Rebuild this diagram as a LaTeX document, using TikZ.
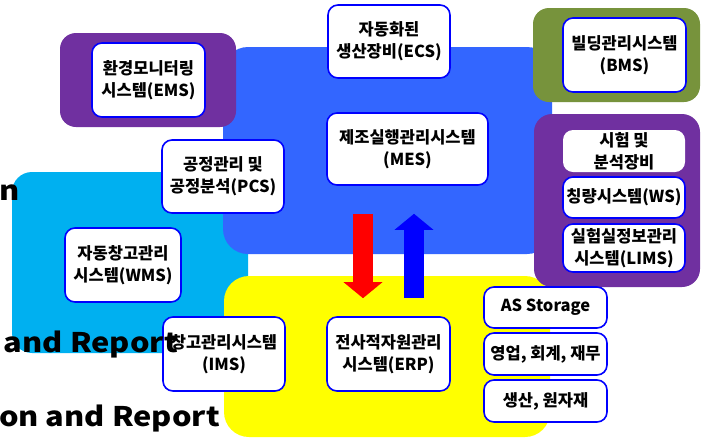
\documentclass[tikz,border=0pt]{standalone}
\usepackage{fontspec}
\setmainfont{Noto Sans CJK KR}
\newfontfamily\cutfont{Noto Sans CJK KR}[FakeStretch=1.14]
\usetikzlibrary{arrows.meta,positioning}
\definecolor{MesBlue}{HTML}{3366FF}
\definecolor{WmsCyan}{HTML}{00B0F0}
\definecolor{ErpYellow}{HTML}{FFFF00}
\definecolor{GroupPurple}{HTML}{7030A0}
\definecolor{GroupOlive}{HTML}{77933C}
\definecolor{BoxBlue}{HTML}{0000FF}

\tikzset{
  region/.style={rounded corners=20pt, inner sep=0pt},
  sysbox/.style={draw=BoxBlue, line width=1.6pt, fill=white, rounded corners=10pt,
    inner sep=0pt, align=center, minimum width=122pt, minimum height=74pt,
    font=\fontsize{16.5}{22}\selectfont\bfseries},
  flowarrow/.style={line width=20pt, -{Triangle[width=38pt,length=16pt]}},
  cuttext/.style={anchor=base east, inner sep=0pt, font=\cutfont\fontsize{27}{30}\selectfont\bfseries}
}

\begin{document}
\begin{tikzpicture}[x=1pt, y=-1pt]
  \useasboundingbox (0,0) rectangle (701,440);
  \fill[white] (0,0) rectangle (701,440);
  % group backgrounds
  \node[region, fill=WmsCyan, minimum width=236pt, minimum height=181pt] (wmsarea) at (130,262.5) {};
  \node[region, fill=MesBlue, rounded corners=25pt, minimum width=329pt, minimum height=207pt] (mesarea) at (387.5,150.5) {};
  \node[region, fill=ErpYellow, rounded corners=25pt, minimum width=326pt, minimum height=161pt] (erparea) at (387,356.5) {};
  \node[region, fill=GroupPurple, rounded corners=16pt, minimum width=176pt, minimum height=94pt] (emsarea) at (148,80) {};
  \node[region, fill=GroupOlive, rounded corners=16pt, minimum width=167pt, minimum height=94pt] (bmsarea) at (616.5,55) {};
  \node[region, fill=GroupPurple, rounded corners=18pt, minimum width=166pt, minimum height=173pt] (labarea) at (617,200.5) {};

  % systems
  \node[sysbox, minimum width=113pt] (ems) at (148.5,80) {환경모니터링\\시스템(EMS)};
  \node[sysbox, minimum height=73pt] (pcs) at (223,176.5) {공정관리 및\\공정분석(PCS)};
  \node[sysbox, minimum height=73pt] (ecs) at (389,41.5) {자동화된\\생산장비(ECS)};
  \node[sysbox, minimum width=161pt, minimum height=72pt] (mes) at (407.5,149) {제조실행관리시스템\\(MES)};
  \node[sysbox, minimum width=123pt] (bms) at (624.5,55) {빌딩관리시스템\\(BMS)};
  \node[sysbox, draw=none, minimum height=42pt] (lab) at (624,151) {시험 및\\분석장비};
  \node[sysbox, minimum height=41pt] (ws) at (624,197.5) {칭량시스템(WS)};
  \node[sysbox, minimum height=48pt] (lims) at (624,248) {실험실정보관리\\시스템(LIMS)};
  \node[sysbox, minimum width=116pt] (wms) at (123,265) {자동창고관리\\시스템(WMS)};
  \node[sysbox] (ims) at (224,354) {창고관리시스템\\(IMS)};
  \node[sysbox, minimum width=123pt] (erp) at (388.5,354) {전사적자원관리\\시스템(ERP)};
  \node[sysbox, minimum width=123pt, minimum height=41pt] (stor) at (545.5,307.5) {AS Storage};
  \node[sysbox, minimum width=123pt, minimum height=42pt] (sales) at (545.5,354) {영업, 회계, 재무};
  \node[sysbox, minimum width=123pt, minimum height=42pt] (prod) at (545.5,401) {생산, 원자재};

  % MES <-> ERP
  \draw[flowarrow, red, shorten <=28pt, shorten >=18pt]
    ([xshift=-25.5pt]erp.north |- mes.south) -- ([xshift=-25.5pt]erp.north);
  \draw[flowarrow, BoxBlue, shorten <=18pt, shorten >=28pt]
    ([xshift=25.5pt]erp.north) -- ([xshift=25.5pt]erp.north |- mes.south);

  \node[cuttext] (cut1) at (19.5,200) {n};
  \node[cuttext] (cut2) at (178,352) {and Report};
  \node[cuttext] (cut3) at (220,426) {on and Report};
\end{tikzpicture}
\end{document}
